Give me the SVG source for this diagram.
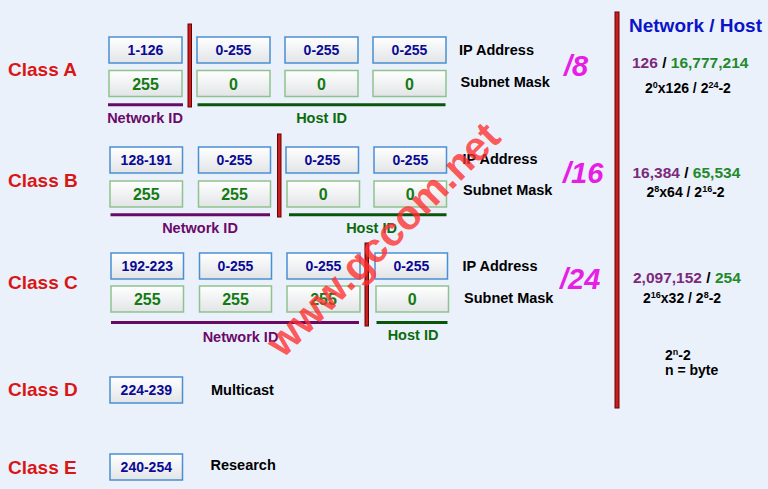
<svg xmlns="http://www.w3.org/2000/svg" width="768" height="489" viewBox="0 0 768 489">
<defs>
<linearGradient id="bg" x1="0" y1="0" x2="0" y2="1">
<stop offset="0" stop-color="#ffffff"/>
<stop offset="1" stop-color="#e2e4e6"/>
</linearGradient>
<style>
text{font-family:"Liberation Sans",Arial,sans-serif;font-weight:bold}
.ip{fill:url(#bg);stroke:#4a8fd2;stroke-width:1.5}
.sm{fill:url(#bg);stroke:#8ec28e;stroke-width:1.5}
.ipt{fill:#0a0a96;font-size:14px;text-anchor:middle}
.smt{fill:#137a13;font-size:16px;text-anchor:middle}
.cls{fill:#d91616;font-size:19px}
.lbl{fill:#000;font-size:14.5px}
.nid{fill:#6a0a6a;font-size:14.5px;text-anchor:middle}
.hid{fill:#0b6a0b;font-size:14.5px;text-anchor:middle}
.pre{fill:#e61ee6;font-size:29px;font-style:italic}
.div{fill:#c81e1e;stroke:#6a0000;stroke-width:1}
.nl{stroke:#660a66;stroke-width:3}
.hl{stroke:#0b550b;stroke-width:3}
.cnt{font-size:15.5px;fill:#000}
.pu{fill:#7a2a7a}
.gr{fill:#23892a}
.fm{font-size:14px;fill:#000}
.sup{font-size:9px}
</style>
</defs>
<rect width="768" height="489" fill="#ebf1fa"/>

<g id="classA">
<text class="cls" x="8" y="76">Class A</text>
<rect class="ip" x="109" y="37" width="73" height="26"/><text class="ipt" x="145.5" y="55">1-126</text>
<rect class="ip" x="197" y="37" width="73" height="26"/><text class="ipt" x="233.5" y="55">0-255</text>
<rect class="ip" x="285" y="37" width="73" height="26"/><text class="ipt" x="321.5" y="55">0-255</text>
<rect class="ip" x="373" y="37" width="73" height="26"/><text class="ipt" x="409.5" y="55">0-255</text>
<rect class="sm" x="109" y="70.5" width="73" height="26"/><text class="smt" x="145.5" y="89.5">255</text>
<rect class="sm" x="197" y="70.5" width="73" height="26"/><text class="smt" x="233.5" y="89.5">0</text>
<rect class="sm" x="285" y="70.5" width="73" height="26"/><text class="smt" x="321.5" y="89.5">0</text>
<rect class="sm" x="373" y="70.5" width="73" height="26"/><text class="smt" x="409.5" y="89.5">0</text>
<text class="lbl" x="459" y="55">IP Address</text>
<text class="lbl" x="460.5" y="87">Subnet Mask</text>
<text class="pre" x="564" y="76">/8</text>
<text class="nid" x="145" y="123">Network ID</text>
<text class="hid" x="321.5" y="123">Host ID</text>
</g>

<g id="classB">
<text class="cls" x="8" y="187">Class B</text>
<rect class="ip" x="110" y="147" width="72.5" height="26"/><text class="ipt" x="146.3" y="165">128-191</text>
<rect class="ip" x="198.5" y="147" width="72" height="26"/><text class="ipt" x="234.5" y="165">0-255</text>
<rect class="ip" x="286" y="147" width="72.5" height="26"/><text class="ipt" x="322.3" y="165">0-255</text>
<rect class="ip" x="374" y="147" width="72.5" height="26"/><text class="ipt" x="410.3" y="165">0-255</text>
<rect class="sm" x="110" y="181" width="72.5" height="26"/><text class="smt" x="146.3" y="200">255</text>
<rect class="sm" x="198.5" y="181" width="72" height="26"/><text class="smt" x="234.5" y="200">255</text>
<rect class="sm" x="287" y="181" width="72.5" height="26"/><text class="smt" x="323.3" y="200">0</text>
<rect class="sm" x="374" y="181" width="72.5" height="26"/><text class="smt" x="410.3" y="200">0</text>
<text class="lbl" x="462.5" y="163.5">IP Address</text>
<text class="lbl" x="463" y="195">Subnet Mask</text>
<text class="pre" x="563" y="183">/16</text>
<text class="nid" x="200" y="232.5">Network ID</text>
<text class="hid" x="371.5" y="232.5">Host ID</text>
</g>

<g id="classC">
<text class="cls" x="8" y="289">Class C</text>
<rect class="ip" x="111" y="253" width="72.5" height="26"/><text class="ipt" x="147.3" y="271">192-223</text>
<rect class="ip" x="199.5" y="253" width="72" height="26"/><text class="ipt" x="235.5" y="271">0-255</text>
<rect class="ip" x="287" y="253" width="73" height="26"/><text class="ipt" x="323.5" y="271">0-255</text>
<rect class="ip" x="375" y="253" width="72.5" height="26"/><text class="ipt" x="411.3" y="271">0-255</text>
<rect class="sm" x="111" y="286" width="72.5" height="26"/><text class="smt" x="147.3" y="305">255</text>
<rect class="sm" x="199.5" y="286" width="72" height="26"/><text class="smt" x="235.5" y="305">255</text>
<rect class="sm" x="287" y="286" width="73" height="26"/><text class="smt" x="323.5" y="305">255</text>
<rect class="sm" x="376" y="286" width="72.5" height="26"/><text class="smt" x="412.3" y="305">0</text>
<text class="lbl" x="462.5" y="271">IP Address</text>
<text class="lbl" x="464" y="303">Subnet Mask</text>
<text class="pre" x="560" y="289">/24</text>
<text class="nid" x="240.5" y="341.5">Network ID</text>
<text class="hid" x="413" y="339.5">Host ID</text>
</g>

<g id="classD">
<text class="cls" x="8" y="396">Class D</text>
<rect class="ip" x="110" y="377" width="72.5" height="26"/><text class="ipt" x="146.3" y="395">224-239</text>
<text class="lbl" x="211" y="395">Multicast</text>
</g>

<g id="classE">
<text class="cls" x="8" y="474">Class E</text>
<rect class="ip" x="110" y="454" width="72.5" height="26"/><text class="ipt" x="146.3" y="472">240-254</text>
<text class="lbl" x="210.5" y="470">Research</text>
</g>

<g id="connectors">
<rect class="div" x="188" y="24" width="3.5" height="83"/>
<rect class="div" x="277.5" y="134" width="3.5" height="83"/>
<rect class="div" x="365" y="243" width="3.5" height="83"/>
<rect class="div" x="615" y="12" width="4" height="396"/>
<line class="nl" x1="108" y1="104.7" x2="183" y2="104.7"/>
<line class="hl" x1="197.5" y1="104.7" x2="445.5" y2="104.7"/>
<line class="nl" x1="110.5" y1="214.7" x2="270" y2="214.7"/>
<line class="hl" x1="289" y1="214.7" x2="446.5" y2="214.7"/>
<line class="nl" x1="111" y1="322.5" x2="359" y2="322.5"/>
<line class="hl" x1="376.5" y1="322.5" x2="447.5" y2="322.5"/>
</g>

<g id="summary">
<text x="629" y="32" style="fill:#0a14c8;font-size:19px">Network / Host</text>
<text class="cnt" x="632" y="68"><tspan class="pu">126</tspan> / <tspan class="gr">16,777,214</tspan></text>
<text class="fm" x="645" y="93">2<tspan class="sup" dy="-5">0</tspan><tspan dy="5">x126 / 2</tspan><tspan class="sup" dy="-5">24</tspan><tspan dy="5">-2</tspan></text>
<text class="cnt" x="632.5" y="178"><tspan class="pu">16,384</tspan> / <tspan class="gr">65,534</tspan></text>
<text class="fm" x="646.5" y="197">2<tspan class="sup" dy="-5">8</tspan><tspan dy="5">x64 / 2</tspan><tspan class="sup" dy="-5">16</tspan><tspan dy="5">-2</tspan></text>
<text class="cnt" x="633" y="283"><tspan class="pu">2,097,152</tspan> / <tspan class="gr">254</tspan></text>
<text class="fm" x="643" y="303">2<tspan class="sup" dy="-5">16</tspan><tspan dy="5">x32 / 2</tspan><tspan class="sup" dy="-5">8</tspan><tspan dy="5">-2</tspan></text>
<text class="fm" x="665" y="360">2<tspan class="sup" dy="-5">n</tspan><tspan dy="5">-2</tspan></text>
<text class="fm" x="665" y="375">n = byte</text>
</g>

<text x="0" y="0" transform="translate(283,359) rotate(-45)" style="fill:#ff3030;fill-opacity:0.8;font-size:41px">www.gccom.net</text>
</svg>
